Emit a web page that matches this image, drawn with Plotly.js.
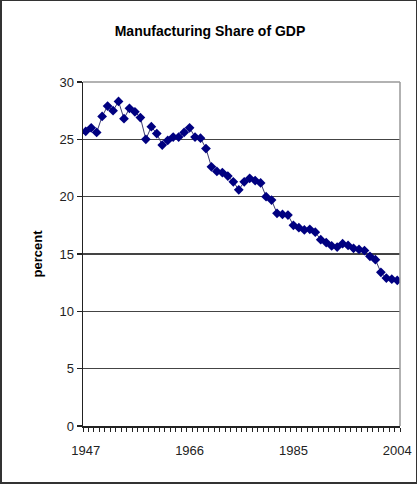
<!DOCTYPE html>
<html>
<head>
<meta charset="utf-8">
<script src="https://cdn.plot.ly/plotly-3.0.1.min.js"></script>
<style>
  html, body { margin: 0; padding: 0; background: #fff; }
  #wrap { position: relative; width: 420px; height: 484px; }
  #chart { position: absolute; left: 0; top: 0; width: 420px; height: 484px; }
  #frame { position: absolute; left: 0; top: 0; width: 417px; height: 484px; box-sizing: border-box;
           border: 2px solid #333; border-top-width: 1px; border-right-width: 1px; pointer-events: none; }
</style>
</head>
<body>
<div id="wrap"><div id="chart"></div><div id="frame"></div></div>
<script>
const years = [];
for (let y = 1947; y <= 2004; y++) years.push(y);
const sharePct = [
  25.7, 26.0, 25.6, 27.0, 27.9, 27.5, 28.3, 26.8, 27.7, 27.4,
  26.9, 25.0, 26.1, 25.5, 24.5, 24.9, 25.2, 25.2, 25.6, 26.0,
  25.2, 25.1, 24.2, 22.6, 22.2, 22.1, 21.8, 21.3, 20.6, 21.3,
  21.6, 21.4, 21.2, 20.0, 19.7, 18.55, 18.45, 18.4, 17.5, 17.3,
  17.1, 17.15, 16.9, 16.25, 16.0, 15.7, 15.6, 15.9, 15.75, 15.5,
  15.4, 15.3, 14.8, 14.5, 13.4, 12.9, 12.8, 12.7
];
const xTickVals = [1947, 1966, 1985, 2004];
const xTickText = ['1947', '1966', '1985', '2004'];
const yTickVals = [0, 5, 10, 15, 20, 25, 30];

const trace = {
  x: years, y: sharePct, type: 'scatter', mode: 'lines+markers',
  line: { color: '#3a3a6e', width: 1 },
  marker: { symbol: 'diamond', size: 7.5, color: '#000080', line: { width: 0 } },
  hoverinfo: 'x+y'
};

const layout = {
  width: 420, height: 484,
  margin: { l: 83, r: 20, t: 82, b: 58 },
  paper_bgcolor: '#fff', plot_bgcolor: '#fff',
  font: { family: 'Liberation Sans, Arial, sans-serif', color: '#222', size: 13 },
  title: { text: '<b>Manufacturing Share of GDP</b>', x: 0.5, xanchor: 'center', y: 0.936, yanchor: 'middle',
           font: { size: 14, color: '#000', family: 'Liberation Sans, Arial, sans-serif' } },
  showlegend: false,
  xaxis: {
    range: [1946.5, 2004.5], tickmode: 'array', tickvals: xTickVals, ticktext: xTickText,
    ticks: '', showgrid: false, zeroline: false,
    showline: true, linecolor: '#222', linewidth: 1.5,
    ticklabelstandoff: 12,
    tickfont: { size: 13, color: '#222' },
    minor: { tick0: 1946.5, dtick: 1, ticks: 'outside', ticklen: 4, tickcolor: '#222', tickwidth: 1, showgrid: false }
  },
  yaxis: {
    range: [0, 30], tickmode: 'array', tickvals: yTickVals,
    ticks: 'outside', ticklen: 5, tickcolor: '#222', tickwidth: 1.5,
    showgrid: true, gridcolor: '#444', gridwidth: 1.5, zeroline: false,
    showline: true, linecolor: '#222', linewidth: 1.5,
    tickfont: { size: 13, color: '#222' },
    title: { text: '<b>percent</b>', standoff: 14, font: { size: 13, color: '#000' } }
  },
  shapes: [
    { type: 'line', xref: 'paper', yref: 'paper', x0: 0, x1: 1, y0: 1, y1: 1, line: { color: '#999', width: 1.5 } },
    { type: 'line', xref: 'paper', yref: 'paper', x0: 1, x1: 1, y0: 0, y1: 1, line: { color: '#999', width: 1.5 } }
  ]
};

Plotly.newPlot('chart', [trace], layout, { displayModeBar: false, staticPlot: true });
</script>
</body>
</html>
